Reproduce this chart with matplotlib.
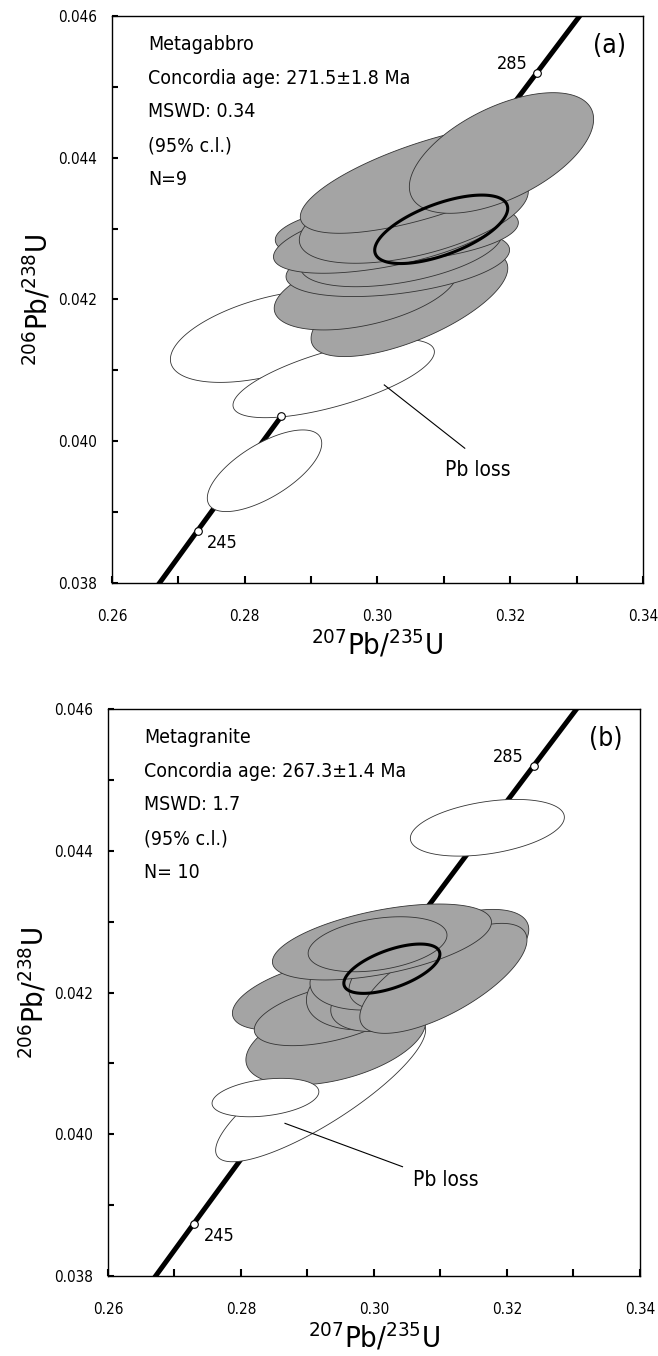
import numpy as np
import matplotlib
matplotlib.use('Agg')
import matplotlib.pyplot as plt
from matplotlib.patches import Polygon

plt.rcParams['font.family'] = ['Liberation Sans Narrow', 'DejaVu Sans']
plt.rcParams['font.stretch'] = 'condensed'
plt.rcParams['mathtext.default'] = 'regular'

# decay constants (1/yr)
L238 = 1.55125e-10
L235 = 9.8485e-10

# concordia curve ages (Ma) and labelled ages
curve_ages = np.linspace(220, 310, 200)
marker_ages = [245, 255, 285]

# (a) metagabbro spot ellipses: 207Pb/235U, 206Pb/238U, half widths, rho, used
gab_x = [0.28380, 0.29340, 0.28298, 0.30481, 0.29827, 0.30306, 0.30359, 0.30291, 0.30182, 0.30547, 0.30803, 0.31868]
gab_y = [0.041480, 0.040885, 0.039583, 0.041946, 0.042134, 0.042511, 0.042698, 0.042962, 0.04291, 0.043181, 0.04371, 0.044067]
gab_ex = [0.01500, 0.01517, 0.00862, 0.01482, 0.01383, 0.01684, 0.01522, 0.01831, 0.01749, 0.01725, 0.01966, 0.01388]
gab_ey = [0.000650, 0.000553, 0.000576, 0.000752, 0.000564, 0.00047, 0.000518, 0.000451, 0.00054, 0.00067, 0.000776, 0.000851]
gab_rho = [0.50, 0.68, 0.67, 0.66, 0.46, 0.40, 0.45, 0.27, 0.57, 0.51, 0.70, 0.56]
gab_used = [0, 0, 0, 1, 1, 1, 1, 1, 1, 1, 1, 1]
gab_mean = (0.30960, 0.04299, 0.01002, 0.000483, 0.61)

# (b) metagranite
gra_x = [0.29198, 0.29426, 0.29017, 0.2935, 0.30268, 0.3045, 0.30027, 0.30976, 0.31044, 0.30120, 0.30054, 0.28368, 0.31705]
gra_y = [0.040624, 0.041319, 0.041965, 0.0417, 0.04213, 0.0420, 0.042223, 0.042463, 0.0422, 0.042713, 0.042681, 0.040518, 0.044325]
gra_ex = [0.01579, 0.01352, 0.01146, 0.0115, 0.01284, 0.011, 0.00989, 0.01352, 0.01257, 0.01647, 0.01044, 0.00803, 0.01158]
gra_ey = [0.001012, 0.000624, 0.000494, 0.00045, 0.000659, 0.00055, 0.00047, 0.00071, 0.000776, 0.000536, 0.000388, 0.000271, 0.0004]
gra_rho = [0.84, 0.43, 0.52, 0.50, 0.36, 0.45, 0.20, 0.60, 0.70, 0.52, 0.33, 0.30, 0.37]
gra_used = [0, 1, 1, 1, 1, 1, 1, 1, 1, 1, 1, 0, 0]
gra_mean = (0.30269, 0.042336, 0.00722, 0.000348, 0.59)

info_a = ['Metagabbro', 'Concordia age: 271.5\u00b11.8 Ma', 'MSWD: 0.34', '(95% c.l.)', 'N=9']
info_b = ['Metagranite', 'Concordia age: 267.3\u00b11.4 Ma', 'MSWD: 1.7', '(95% c.l.)', 'N= 10']

# Pb loss pointer: line start, line end, text position
pbloss_a = [(0.30102, 0.040794), (0.31315, 0.039901), (0.3102, 0.039594)]
pbloss_b = [(0.28662, 0.040154), (0.30429, 0.039542), (0.30586, 0.039355)]


def ellipse_pts(cx, cy, ex, ey, rho, n=240):
    t = np.linspace(0, 2 * np.pi, n)
    px = cx + ex * np.cos(t)
    py = cy + ey * (rho * np.cos(t) + np.sqrt(1 - rho ** 2) * np.sin(t))
    return np.column_stack([px, py])


def concordia(ages):
    ages = np.asarray(ages) * 1e6
    return np.exp(L235 * ages) - 1, np.exp(L238 * ages) - 1


def panel(ax, xs, ys, exs, eys, rhos, used, mean, info, tag, pbloss, mz):
    cx, cy = concordia(curve_ages)
    ax.plot(cx, cy, color='black', lw=3.6, zorder=1, solid_capstyle='butt')
    mx, my = concordia(marker_ages)
    ax.plot(mx, my, 'o', ms=5.5, mfc='white', mec='black', mew=0.8, zorder=mz)
    ax.annotate('285', (mx[2], my[2]), xytext=(-7, 6), textcoords='offset points',
                ha='right', va='center', fontsize=13, zorder=5)
    ax.annotate('245', (mx[0], my[0]), xytext=(7, -9), textcoords='offset points',
                ha='left', va='center', fontsize=13, zorder=5)

    for i in range(len(xs)):
        fc = '#a4a4a4' if used[i] else 'white'
        poly = Polygon(ellipse_pts(xs[i], ys[i], exs[i], eys[i], rhos[i]),
                       closed=True, fc=fc, ec='#333333', lw=0.6, zorder=2 + i * 0.01)
        ax.add_patch(poly)
    poly = Polygon(ellipse_pts(*mean), closed=True, fill=False, ec='black', lw=2.2, zorder=3)
    ax.add_patch(poly)

    ax.plot([pbloss[0][0], pbloss[1][0]], [pbloss[0][1], pbloss[1][1]],
            color='black', lw=0.8, zorder=4)
    ax.text(pbloss[2][0], pbloss[2][1], 'Pb loss', fontsize=15, va='center', ha='left')

    ys_txt = [0.949, 0.889, 0.831, 0.771, 0.711]
    for s, yy in zip(info, ys_txt):
        ax.text(0.068, yy, s, transform=ax.transAxes, fontsize=14, va='center', ha='left', zorder=5)
    ax.text(0.968, 0.947, tag, transform=ax.transAxes, fontsize=19, va='center', ha='right', zorder=5)

    ax.set_xlim(0.26, 0.34)
    ax.set_ylim(0.038, 0.046)
    ax.set_xticks([0.26, 0.28, 0.30, 0.32, 0.34])
    ax.set_xticklabels(['0.26', '0.28', '0.30', '0.32', '0.34'])
    ax.set_xticks(np.arange(0.27, 0.34, 0.02), minor=True)
    ax.set_yticks([0.038, 0.040, 0.042, 0.044, 0.046])
    ax.set_yticklabels(['0.038', '0.040', '0.042', '0.044', '0.046'])
    ax.set_yticks(np.arange(0.039, 0.046, 0.002), minor=True)
    ax.tick_params(which='both', direction='in', width=1.5, labelsize=11)
    ax.tick_params(axis='x', which='both', length=5, pad=19)
    ax.tick_params(axis='y', which='both', length=4.5, pad=11)
    for s in ax.spines.values():
        s.set_linewidth(1.0)
    ax.set_xlabel('$^{207}$Pb/$^{235}$U', fontsize=21, labelpad=3)
    ax.set_ylabel('$^{206}$Pb/$^{238}$U', fontsize=21, labelpad=3)


fig = plt.figure(figsize=(6.58, 13.56), dpi=100)
ax1 = fig.add_axes([0.1702, 0.5701, 0.807, 0.4181])
ax2 = fig.add_axes([0.1641, 0.0590, 0.8085, 0.4181])
panel(ax1, gab_x, gab_y, gab_ex, gab_ey, gab_rho, gab_used, gab_mean, info_a, '(a)', pbloss_a, 4)
panel(ax2, gra_x, gra_y, gra_ex, gra_ey, gra_rho, gra_used, gra_mean, info_b, '(b)', pbloss_b, 1.5)

fig.savefig('out.png', dpi=100)
